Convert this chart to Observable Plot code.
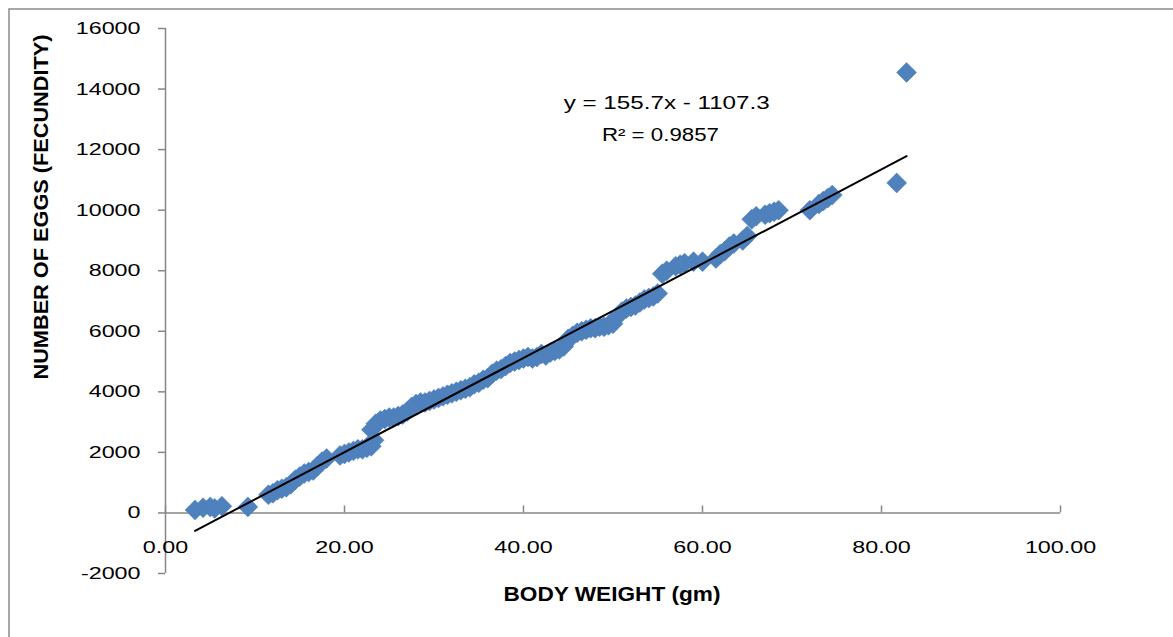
<!DOCTYPE html>
<html><head><meta charset="utf-8">
<script src="https://cdn.jsdelivr.net/npm/d3@7"></script>
<script src="https://cdn.jsdelivr.net/npm/@observablehq/plot@0.6"></script>
<style>
body{margin:0;background:#fff;}
#chart{position:relative;width:1173px;height:637px;overflow:hidden;}
</style>
</head><body><div id="chart"></div>
<script>
// ---- data ----
const bodyWeight = [3.3,4.2,5.0,5.5,6.3,9.2,11.5,12.0,12.5,13.0,13.5,14.0,14.5,15.0,15.5,16.0,16.5,17.0,17.5,18.0,
  19.5,20.0,20.5,21.0,21.5,22.0,22.5,23.0,23.3,23.0,23.5,24.0,24.5,25.0,25.5,26.0,26.5,27.0,27.5,28.0,
  28.5,29.0,29.5,30.0,30.5,31.0,31.5,32.0,32.5,33.0,33.5,34.0,34.5,35.0,35.5,36.0,36.5,37.0,37.5,38.0,
  38.5,39.0,39.5,40.0,40.5,41.0,41.5,42.0,42.5,43.0,43.5,44.0,44.5,45.0,45.5,46.0,46.5,47.0,47.5,48.0,
  48.5,49.0,49.5,50.0,50.5,51.0,51.5,52.0,52.5,53.0,53.5,54.0,54.5,55.0,55.5,56.0,57.0,57.5,58.0,59.0,
  60.0,61.5,62.0,62.5,63.0,63.5,64.5,65.0,65.5,66.0,67.0,67.5,68.0,68.5,72.0,73.0,73.5,74.0,74.5,81.7,82.8];
const eggs = [100,170,200,150,220,200,600,650,750,800,850,950,1100,1200,1300,1350,1400,1550,1700,1800,
  1900,1950,2000,2050,2100,2100,2150,2200,2400,2750,2950,3050,3100,3150,3150,3200,3250,3350,3500,3600,
  3650,3650,3700,3750,3800,3850,3900,3950,4000,4050,4100,4150,4250,4300,4400,4450,4600,4700,4750,4850,
  4950,5000,5050,5100,5150,5100,5150,5250,5200,5300,5350,5400,5500,5750,5850,5950,6000,6050,6100,6100,
  6150,6150,6200,6250,6500,6650,6750,6800,6850,6950,7050,7100,7150,7250,7900,8000,8150,8200,8250,8300,
  8300,8400,8550,8650,8800,8900,9000,9150,9700,9800,9850,9900,9950,10000,10000,10200,10300,10400,10500,10900,14550];
const xTicks = [0,20,40,60,80,100];
const yTicks = [-2000,0,2000,4000,6000,8000,10000,12000,14000,16000];
const trendX = [3.3, 82.8];
const trendY = [-593, 11785];
const equationText = "y = 155.7x - 1107.3";
const r2Text = "R² = 0.9857";
const xTitle = "BODY WEIGHT (gm)";
const yTitle = "NUMBER OF EGGS (FECUNDITY)";

// ---- build ----
const points = bodyWeight.map((x, i) => ({x, y: eggs[i]}));
const trend = trendX.map((x, i) => ({x, y: trendY[i]}));
const axisColor = "#868686";
const font = "'Liberation Sans', Arial, sans-serif";

const plot = Plot.plot({
  width: 1173, height: 637,
  marginLeft: 165, marginRight: 113, marginTop: 28, marginBottom: 64,
  x: {domain: [0, 100], axis: null},
  y: {domain: [-2000, 16000], axis: null},
  style: {fontFamily: font, fontSize: "17px", background: "white", color: "black", overflow: "visible"},
  marks: [
    Plot.ruleX([0], {stroke: axisColor, strokeWidth: 1.5}),
    Plot.axisY({ticks: yTicks, tickSize: 7, tickPadding: 18, tickFormat: d => String(d),
      stroke: axisColor, strokeWidth: 1.5, fill: "black", fontSize: 17, label: null, className: "ylab"}),
    Plot.ruleY([0], {stroke: axisColor, strokeWidth: 1.5}),
    Plot.ruleX(xTicks, {y1: 0, y2: 230, stroke: axisColor, strokeWidth: 1.5}),
    Plot.text(xTicks, {x: d => d, y: 0, dy: 35, text: d => d.toFixed(2), fontSize: 17, fill: "black", className: "xlab"}),
    Plot.dot(points, {x: "x", y: "y", symbol: "diamond2", r: 9, fill: "#4F81BD", stroke: "#4A7EBB", strokeWidth: 0.5}),
    Plot.line(trend, {x: "x", y: "y", stroke: "black", strokeWidth: 2}),
    Plot.text([equationText], {x: 56.0, y: 13520, text: d => d, fontSize: 18, fill: "black", className: "eq1"}),
    Plot.text([r2Text], {x: 55.3, y: 12460, text: d => d, fontSize: 18, fill: "black", className: "eq2"})
  ]
});
document.getElementById("chart").append(plot);

const svg = d3.select(plot);
// horizontal stretch of tick labels (reference glyphs are wide)
svg.selectAll(".ylab text, .xlab text").each(function() {
  const w = this.getComputedTextLength();
  this.setAttribute("textLength", w * 1.37);
  this.setAttribute("lengthAdjust", "spacingAndGlyphs");
});
svg.selectAll(".eq1 text").attr("textLength", 206).attr("lengthAdjust", "spacingAndGlyphs");
svg.selectAll(".eq2 text").attr("textLength", 117).attr("lengthAdjust", "spacingAndGlyphs");

// axis titles
svg.append("text")
  .attr("transform", "translate(42,207) rotate(-90)")
  .attr("text-anchor", "middle").attr("dominant-baseline", "middle")
  .attr("font-family", font).attr("font-weight", "bold").attr("font-size", 21)
  .attr("textLength", 345).attr("lengthAdjust", "spacingAndGlyphs")
  .attr("fill", "black").text(yTitle);
svg.append("text")
  .attr("x", 612).attr("y", 596)
  .attr("text-anchor", "middle").attr("dominant-baseline", "middle")
  .attr("font-family", font).attr("font-weight", "bold").attr("font-size", 20)
  .attr("textLength", 217).attr("lengthAdjust", "spacingAndGlyphs")
  .attr("fill", "black").text(xTitle);
// chart frame
svg.append("rect").attr("x", 9).attr("y", 9).attr("width", 1200).attr("height", 700)
  .attr("fill", "none").attr("stroke", "#8a8a8a").attr("stroke-width", 1.5);
</script>
</body></html>
